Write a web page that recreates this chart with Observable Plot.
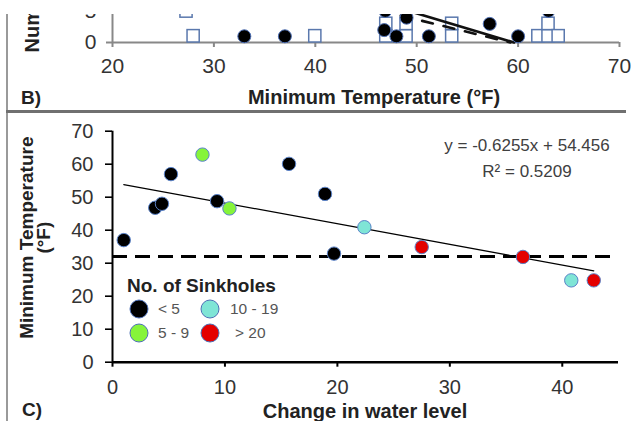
<!DOCTYPE html>
<html><head><meta charset="utf-8">
<script src="https://cdn.jsdelivr.net/npm/d3@7"></script>
<script src="https://cdn.jsdelivr.net/npm/@observablehq/plot@0.6"></script>
<style>
body{margin:0;background:#fff;}
#wrap{position:relative;width:632px;height:421px;overflow:hidden;font-family:"Liberation Sans",Arial,sans-serif;background:#fff;}
.abs{position:absolute;white-space:nowrap;line-height:1;}
.ctr{transform:translate(-50%,-50%);}
.vc{transform:translate(0,-50%);}
.sw{position:absolute;width:17px;height:17px;border-radius:50%;border:1.5px solid #4d6fb5;transform:translate(-50%,-50%);}
</style></head><body>
<div id="wrap">
  <div id="panelB" class="abs" style="left:0;top:0"></div>
  <div id="panelC" class="abs" style="left:0;top:112px"></div>
  <div class="abs" style="left:0;top:0;width:632px;height:14px;background:#fff;z-index:5"></div>
  <div class="abs" style="left:6px;top:14px;width:2px;height:407px;background:#9a9a9a;z-index:6"></div>
  <div class="abs" style="left:6px;top:110px;width:620px;height:3px;background:#707070;z-index:6"></div>
  <div id="labels"></div>
</div>
<script>
// ---------- Panel B (cropped) data ----------
const bXTicks = [20, 30, 40, 50, 60, 70];
const bYTicks = [0, 5];
const bBoxTemps  = [27.3, 28, 40, 47, 47, 49, 49, 53.5, 53.5, 62, 63, 63, 64];
const bBoxLevels = [3, 1, 1, 1, 2, 1, 2, 1, 2, 1, 1, 2, 1];
const bDotTemps  = [33, 37, 46.8, 46.9, 48, 49, 51.2, 57.2, 60, 63];
const bDotCounts = [1, 1, 2, 5.1, 1, 4, 1, 3, 1, 5.1];
const bFitSlopes = [-0.49, -0.40];
const bFitIntercepts = [29.2, 23.7];
const bFitFrom = [44, 40];
const bFitTo = [59.6, 59.25];

// ---------- Panel C data ----------
const cXTicks = [0, 10, 20, 30, 40];
const cYTicks = [0, 10, 20, 30, 40, 50, 60, 70];
const cWaterChange = [1, 3.8, 4.4, 5.2, 9.3, 15.7, 18.9, 19.7, 8.0, 10.4, 22.4, 40.8, 27.5, 36.5, 42.8];
const cMinTemp     = [37, 46.8, 48, 57, 48.8, 60.1, 51, 32.9, 62.9, 46.6, 40.9, 24.8, 34.9, 31.9, 24.8];
const cClass = ["< 5","< 5","< 5","< 5","< 5","< 5","< 5","< 5","5 - 9","5 - 9","10 - 19","10 - 19","> 20","> 20","> 20"];
const classNames = ["< 5", "5 - 9", "10 - 19", "> 20"];
const classColors = ["#000000", "#86f43a", "#7fe5d6", "#e40000"];
const fitSlope = -0.6255;
const fitIntercept = 54.456;
const fitR2 = 0.5209;
const freezingF = 32;

const font = '"Liberation Sans", Arial, sans-serif';

// ---------- Panel B ----------
const boxes = bBoxTemps.map((t, i) => ({t, lv: bBoxLevels[i]}));
const bDots = bDotTemps.map((t, i) => ({t, n: bDotCounts[i]}));
const bLines = bFitSlopes.map((s, i) => [bFitFrom[i], bFitTo[i]].map(t => ({t, n: s * t + bFitIntercepts[i], k: i})));
const boxHalf = 0.6;

const plotB = Plot.plot({
  width: 632, height: 112,
  marginLeft: 112, marginRight: 13, marginTop: 0, marginBottom: 70,
  style: {fontFamily: font, fontSize: "21px", color: "#333", background: "transparent", overflow: "hidden"},
  x: {domain: [20, 70]},
  y: {domain: [0, 6.77]},
  marks: [
    Plot.axisX({ticks: bXTicks, tickFormat: d => String(d), tickSize: 5, tickPadding: 11, stroke: "#888", strokeWidth: 2, fill: "#333", label: null}),
    Plot.axisY({ticks: bYTicks, tickFormat: d => String(d), tickSize: 6, tickPadding: 10, stroke: "#888", strokeWidth: 2, fill: "#333", label: null}),
    Plot.ruleY([0], {x1: 20, x2: 70, stroke: "#888", strokeWidth: 2}),
    Plot.ruleX([20], {y1: 0, y2: 6.77, stroke: "#888", strokeWidth: 2}),
    Plot.rect(boxes, {x1: d => d.t - boxHalf, x2: d => d.t + boxHalf, y1: d => d.lv * 2 - 2, y2: d => d.lv * 2, fill: "white", stroke: "#5a78ad", strokeWidth: 1.5}),
    Plot.line(bLines[0], {x: "t", y: "n", stroke: "#111", strokeWidth: 2.6}),
    Plot.line(bLines[1], {x: "t", y: "n", stroke: "#111", strokeWidth: 2.6, strokeDasharray: "11,11"}),
    Plot.dot(bDots, {x: "t", y: "n", r: 6.5, fill: "#000", stroke: "#4d6fb5", strokeWidth: 1}),
    Plot.text(["Number of Sinkholes"], {frameAnchor: "bottom-left", dx: -80, dy: 10, rotate: -90, textAnchor: "start", lineAnchor: "middle", fontWeight: "bold", fontSize: 20, fill: "#222"})
  ]
});
document.getElementById("panelB").appendChild(plotB);

// ---------- Panel C ----------
const pts = cWaterChange.map((x, i) => ({x, y: cMinTemp[i], c: cClass[i]}));
const xMin = d3.min(cWaterChange), xMax = d3.max(cWaterChange);
const trend = [xMin, xMax].map(x => ({x, y: fitSlope * x + fitIntercept}));

const plotC = Plot.plot({
  width: 632, height: 309,
  marginLeft: 112, marginRight: 14, marginTop: 18.7, marginBottom: 59.3,
  style: {fontFamily: font, fontSize: "20px", color: "#333", background: "white"},
  x: {domain: [0, 45]},
  y: {domain: [0, 70]},
  color: {domain: classNames, range: classColors},
  marks: [
    Plot.axisX({ticks: cXTicks, tickFormat: d => String(d), tickSize: 5, tickPadding: 13, stroke: "#000", strokeWidth: 2, fill: "#333", label: null}),
    Plot.axisY({ticks: cYTicks, tickFormat: d => String(d), tickSize: 7, tickPadding: 12, stroke: "#000", strokeWidth: 1.6, fill: "#333", label: null}),
    Plot.ruleY([0], {x1: 0, x2: 45, stroke: "#000", strokeWidth: 2.5}),
    Plot.ruleX([0], {y1: 0, y2: 70, stroke: "#000", strokeWidth: 2}),
    Plot.ruleY([freezingF], {x1: 0, x2: 44.4, stroke: "#000", strokeWidth: 3, strokeDasharray: "15,8"}),
    Plot.line(trend, {x: "x", y: "y", stroke: "#000", strokeWidth: 1.2}),
    Plot.dot(pts, {x: "x", y: "y", r: 6.7, fill: "c", stroke: "#5a82c8", strokeWidth: 1}),
    Plot.text(["Minimum Temperature\n(°F)"], {frameAnchor: "left", dx: -76.5, dy: -9, rotate: -90, textAnchor: "middle", lineAnchor: "middle", lineHeight: 0.9, fontWeight: "bold", fontSize: 19, fill: "#222"})
  ]
});
document.getElementById("panelC").appendChild(plotC);

// ---------- HTML labels, equation and legend ----------
const L = document.getElementById("labels");
function add(html, style, cls) {
  const d = document.createElement("div");
  d.className = "abs " + (cls || "");
  d.style.cssText = style + ";z-index:7";
  d.innerHTML = html;
  L.appendChild(d);
  return d;
}
add("B)", "left:21px;top:97px;font-weight:bold;font-size:19px;color:#222", "vc");
add("Minimum Temperature (°F)", "left:374px;top:97px;font-weight:bold;font-size:20px;color:#222", "ctr");
add("C)", "left:22px;top:409px;font-weight:bold;font-size:19px;color:#222", "vc");
add("Change in water level", "left:365px;top:411px;font-weight:bold;font-size:20px;color:#222", "ctr");
add(`y = ${fitSlope}x + ${fitIntercept}`, "left:527px;top:145px;font-size:17px;color:#404040", "ctr");
add(`R² = ${fitR2}`, "left:527px;top:171px;font-size:17px;color:#404040", "ctr");

add("No. of Sinkholes", "left:127px;top:285px;font-weight:bold;font-size:19px;color:#222", "vc");
const legPos = [[139, 309], [139, 333], [210, 309], [210, 333]];
const legText = [[158, 309], [158, 333], [230, 309], [235, 333]];
classNames.forEach((name, i) => {
  const s = document.createElement("div");
  s.className = "sw";
  s.style.cssText = `left:${legPos[i][0]}px;top:${legPos[i][1]}px;background:${classColors[i]};z-index:7`;
  L.appendChild(s);
  add(name, `left:${legText[i][0]}px;top:${legText[i][1]}px;font-size:15.5px;color:#555`, "vc");
});
</script>
</body></html>
